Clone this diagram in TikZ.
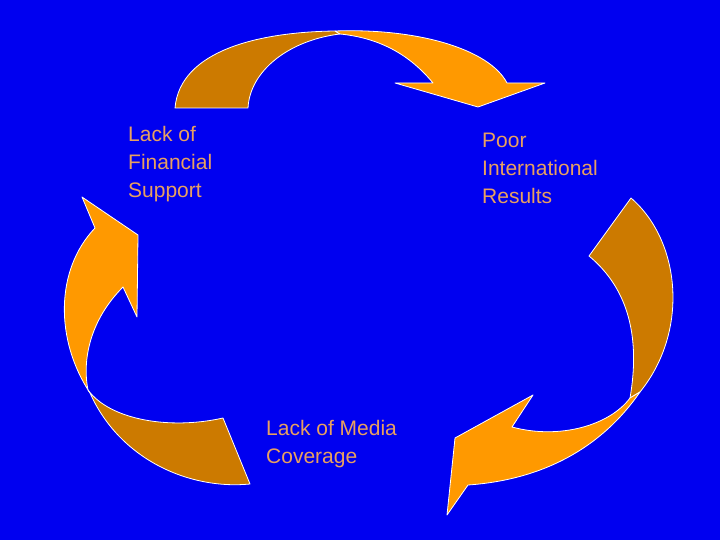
\documentclass[tikz,border=0pt]{standalone}
\usepackage{fontspec}
\setmainfont{Liberation Sans}
\definecolor{bg}{RGB}{0,0,240}
\definecolor{dk}{RGB}{204,122,0}
\definecolor{lt}{RGB}{255,153,0}
\definecolor{tx}{RGB}{232,160,96}
\tikzset{dkpart/.style={fill=dk,draw=white,line width=0.8pt,line join=round},
ltpart/.style={fill=lt,draw=white,line width=0.8pt,line join=round},
lbl/.style={anchor=north west,align=left,text=tx,font=\fontsize{21}{28}\selectfont,inner sep=0pt}}
\begin{document}
\begin{tikzpicture}[x=1pt,y=-1pt]
\fill[bg] (0,0) rectangle (720,540);
\useasboundingbox (0,0) rectangle (720,540);
% top arrow
\path[dkpart] (175,108) .. controls (180,50) and (260,32) .. (335,31) -- (340,34) .. controls (290,40) and (250,70) .. (248,108) -- cycle;
\path[ltpart] (335,31) .. controls (420,28) and (490,50) .. (507,83) -- (545,83) -- (478,107) -- (395,83) -- (433,83) .. controls (410,55) and (380,38) .. (340,34) -- cycle;
% right arrow
\path[dkpart] (631,198) .. controls (680,240) and (690,330) .. (640,392) -- (630,398) .. controls (640,340) and (630,290) .. (589,256) -- cycle;
\path[ltpart] (640,392) .. controls (600,450) and (540,480) .. (468,485) -- (447,515) -- (455,438) -- (533,395) -- (512,427) .. controls (560,440) and (610,425) .. (630,398) -- cycle;
% left arrow
\path[ltpart] (82,197) -- (95,228) .. controls (55,270) and (55,340) .. (90,393) -- (88,390) .. controls (82,360) and (90,320) .. (123,287) -- (137,317) -- (138,235) -- cycle;
\path[dkpart] (90,393) .. controls (120,460) and (190,490) .. (250,484) -- (223,418) .. controls (170,430) and (110,420) .. (88,390) -- cycle;
% labels
\node[lbl] (fin) at (128,126) {Lack of\\Financial\\Support};
\node[lbl] (res) at (482,133) {Poor\\International\\Results};
\node[lbl] (med) at (266,420) {Lack of Media\\Coverage};
\end{tikzpicture}
\end{document}
